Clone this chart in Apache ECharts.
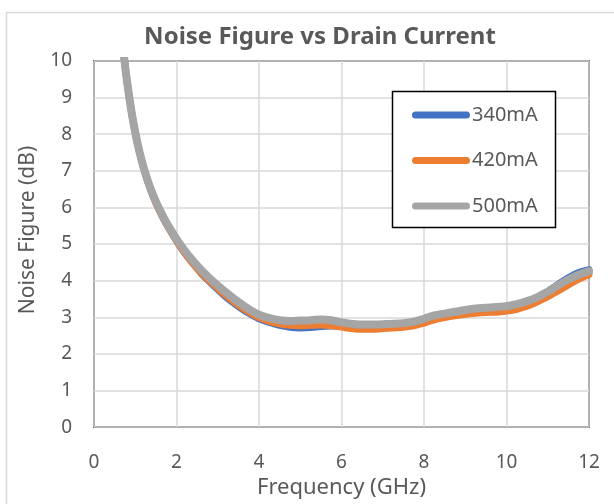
<!DOCTYPE html>
<html>
<head>
<meta charset="utf-8">
<script src="https://cdn.jsdelivr.net/npm/echarts@6/dist/echarts.min.js"></script>
<style>html,body{margin:0;padding:0;background:#fff;}#c{width:614px;height:504px;}</style>
</head>
<body>
<div id="c"></div>
<script>
var titleText = 'Noise Figure vs Drain Current';
var xName = 'Frequency (GHz)';
var yName = 'Noise Figure (dB)';
var seriesNames = ['340mA', '420mA', '500mA'];
var freq = [0.7,0.8,0.9,1.0,1.1,1.2,1.3,1.4,1.5,1.6,1.7,1.8,2.0,2.2,2.4,2.6,2.8,3.0,3.2,3.4,3.6,3.8,4.0,4.25,4.5,4.75,5.0,5.25,5.5,5.75,6.0,6.25,6.5,6.75,7.0,7.25,7.5,7.75,8.0,8.25,8.5,8.75,9.0,9.25,9.5,9.75,10.0,10.25,10.5,10.75,11.0,11.25,11.5,11.75,12.0];
var nf340 = [10.4,9.45,8.68,8.05,7.53,7.1,6.73,6.41,6.13,5.89,5.66,5.46,5.09,4.76,4.47,4.2,3.97,3.76,3.55,3.38,3.22,3.08,2.96,2.86,2.78,2.73,2.71,2.72,2.75,2.76,2.75,2.73,2.72,2.73,2.75,2.77,2.79,2.83,2.9,2.98,3.04,3.09,3.14,3.18,3.2,3.22,3.25,3.31,3.4,3.53,3.7,3.9,4.08,4.22,4.3];
var nf420 = [10.4,9.45,8.67,8.03,7.51,7.08,6.71,6.4,6.12,5.88,5.66,5.46,5.09,4.76,4.47,4.21,3.99,3.79,3.59,3.41,3.25,3.11,2.99,2.89,2.82,2.78,2.77,2.78,2.79,2.77,2.73,2.69,2.67,2.67,2.69,2.71,2.73,2.77,2.84,2.93,2.99,3.04,3.08,3.11,3.13,3.14,3.17,3.22,3.3,3.42,3.56,3.72,3.88,4.04,4.17];
var nf500 = [10.4,9.45,8.68,8.05,7.53,7.1,6.74,6.43,6.16,5.92,5.7,5.5,5.14,4.82,4.54,4.29,4.07,3.87,3.68,3.5,3.34,3.19,3.07,2.98,2.92,2.9,2.91,2.92,2.94,2.92,2.86,2.82,2.8,2.8,2.81,2.82,2.84,2.88,2.96,3.05,3.1,3.15,3.2,3.24,3.26,3.28,3.3,3.36,3.44,3.55,3.7,3.87,4.03,4.16,4.26];
var colors = ['#4472C4', '#ED7D31', '#A5A5A5'];

var FONT = '"Noto Sans", "Open Sans", sans-serif';
var TXT = '#595959';

function pairs(xs, ys) { return xs.map(function (x, i) { return [x, ys[i]]; }); }
var allValues = [nf340, nf420, nf500];

var chart = echarts.init(document.getElementById('c'), null, {renderer: 'canvas'});
var capsule = 'path://M3.5,0 L54.5,0 A3.5,3.5 0 0 1 54.5,7 L3.5,7 A3.5,3.5 0 0 1 3.5,0 Z';

chart.setOption({
  backgroundColor: '#fff',
  animation: false,
  color: colors,
  title: {
    text: titleText,
    left: 315, top: 20, textAlign: 'center',
    textStyle: {fontFamily: FONT, fontSize: 24, fontWeight: 'bold', color: TXT}
  },
  grid: {
    left: 94, right: 25, top: 61, bottom: 74,
    show: true, borderColor: '#000', borderWidth: 1.5, backgroundColor: 'transparent'
  },
  legend: {
    orient: 'vertical',
    left: 392, top: 92,
    padding: [13, 15, 12, 20],
    itemGap: 25.5,
    itemWidth: 58, itemHeight: 7,
    z: 10,
    data: seriesNames.map(function (n) { return {name: n, icon: capsule}; }),
    textStyle: {fontFamily: FONT, fontSize: 20, color: TXT, lineHeight: 20, padding: [0, 0, 0, -3]}
  },
  xAxis: {
    type: 'value', min: 0, max: 12, interval: 2,
    name: xName, nameLocation: 'middle', nameGap: 49,
    nameTextStyle: {fontFamily: FONT, fontSize: 22, color: TXT},
    axisLine: {show: false}, axisTick: {show: false},
    axisLabel: {fontFamily: FONT, fontSize: 19, color: TXT, margin: 26},
    splitLine: {show: true, lineStyle: {color: '#D9D9D9', width: 1.5}}
  },
  yAxis: {
    type: 'value', min: 0, max: 10, interval: 1,
    axisLine: {show: false}, axisTick: {show: false},
    axisLabel: {fontFamily: FONT, fontSize: 19, color: TXT, margin: 22},
    splitLine: {show: true, lineStyle: {color: '#D9D9D9', width: 1.5}}
  },
  graphic: [
    {type: 'rect', silent: true, z: -10, shape: {x: 6.5, y: 12.5, width: 700, height: 600},
     style: {fill: 'none', stroke: '#D9D9D9', lineWidth: 1.5}},
    {type: 'rect', silent: true, z: 3, shape: {x: 392.5, y: 91.5, width: 163, height: 136},
     style: {fill: '#fff', stroke: '#000', lineWidth: 1.5}},
    {type: 'text', x: 28, y: 230, rotation: Math.PI / 2,
     style: {text: yName, align: 'center', verticalAlign: 'middle', fontFamily: FONT, fontSize: 21, fill: TXT}}
  ],
  series: seriesNames.map(function (n, i) {
    return {
      name: n, type: 'line', data: pairs(freq, allValues[i]),
      showSymbol: false, symbol: 'none', smooth: 0.4, clip: true,
      lineStyle: {width: i === 2 ? 8 : 7, color: colors[i], cap: 'round', join: 'round'},
      itemStyle: {color: colors[i]}
    };
  })
});
</script>
</body>
</html>
